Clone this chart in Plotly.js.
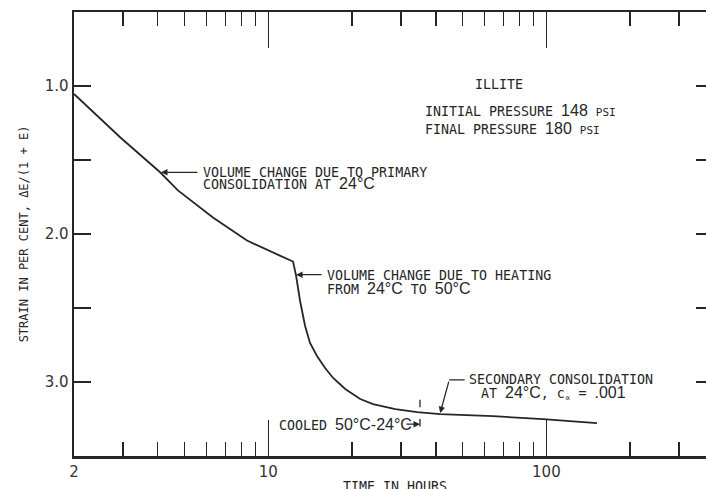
<!DOCTYPE html>
<html>
<head>
<meta charset="utf-8">
<script src="https://cdn.plot.ly/plotly-3.0.1.min.js"></script>
<style>html,body{margin:0;padding:0;background:#fff;overflow:hidden}</style>
</head>
<body>
<div id="chart" style="width:706px;height:489px"></div>
<script>
// Illite consolidation test: strain versus elapsed time (log scale)
const timeHours = [2.0, 2.93, 4.08, 4.73, 6.32, 8.38, 11.0, 12.27, 12.58, 13.0, 13.55, 14.12, 14.96, 16.0, 17.1, 18.9, 21.4, 23.8, 28.6, 34.3, 41.5, 64.3, 97.3, 152];
const strainPct = [1.054, 1.346, 1.583, 1.705, 1.888, 2.044, 2.146, 2.186, 2.281, 2.451, 2.620, 2.736, 2.824, 2.905, 2.973, 3.047, 3.115, 3.149, 3.183, 3.203, 3.217, 3.231, 3.251, 3.278];

const xMajorTicks = [2, 10, 100];
const xMajorLabels = ['2', '10', '100'];
const xMinorTicks = [3, 4, 5, 6, 7, 8, 9, 20, 30, 40, 50, 60, 70, 80, 90, 200, 300];
const yTicks = [1.0, 1.5, 2.0, 2.5, 3.0];
const yTickLabels = ['1.0', '', '2.0', '', '3.0'];

const coolTime = 35.1;          // hours, sample cooled 50°C -> 24°C
const xRange = [Math.log10(2), Math.log10(375)];
const yRange = [3.5, 0.5];

const INK = '#262626';
const MONO = 'DejaVu Sans Mono';
const num = s => `<span style="font-family:Liberation Sans;font-size:16px">${s}</span>`;
const sc = s => `<span style="font-size:11px">${s}</span>`;

function label(hours, strain, text) {
  return {x: Math.log10(hours), y: strain, xref: 'x', yref: 'y', text: text,
    showarrow: false, xanchor: 'left', yanchor: 'middle',
    font: {family: MONO, size: 13.3, color: INK}};
}
function pointer(hours, strain, ax, ay, head) {
  return {x: Math.log10(hours), y: strain, xref: 'x', yref: 'y', text: '',
    showarrow: true, ax: ax, ay: ay, arrowhead: head, arrowsize: 1,
    arrowwidth: 1.3, arrowcolor: INK, standoff: 0, startstandoff: 0};
}

const annotations = [
  label(54.5, 0.993, 'ILLITE'),
  label(36.0, 1.163, 'INITIAL PRESSURE ' + num('148') + ' ' + sc('PSI')),
  label(36.0, 1.285, 'FINAL PRESSURE ' + num('180') + ' ' + sc('PSI')),

  label(5.73, 1.583, 'VOLUME CHANGE DUE TO PRIMARY'),
  label(5.73, 1.661, 'CONSOLIDATION AT ' + num('24°C')),
  pointer(4.11, 1.583, 38, 0, 2),

  label(16.0, 2.281, 'VOLUME CHANGE DUE TO HEATING'),
  label(16.0, 2.369, 'FROM ' + num('24°C') + ' TO ' + num('50°C')),
  pointer(12.58, 2.275, 27, 0, 2),

  label(51.8, 2.986, 'SECONDARY CONSOLIDATION'),
  label(57.3, 3.075, 'AT ' + num('24°C') + ', c<sub>∝</sub> = ' + num('.001')),
  pointer(41.5, 3.21, 9, -33, 2),
  pointer(44.7, 2.986, 17, 0, 0),

  label(10.75, 3.285, 'COOLED ' + num('50°C-24°C')),
  pointer(coolTime, 3.285, -15, 0, 2),
  pointer(coolTime, 3.25, 0, 9, 0),
  pointer(coolTime, 3.12, 0, 9, 0),

  // x-axis title, sitting low in the bottom margin
  {text: 'TIME IN HOURS', xref: 'paper', yref: 'paper', x: 0.508, y: -0.0698,
   xanchor: 'center', yanchor: 'middle', showarrow: false,
   font: {family: MONO, size: 13.3, color: INK}}
];

const traces = [
  {x: timeHours, y: strainPct, type: 'scatter', mode: 'lines',
   line: {color: INK, width: 1.8}, hoverinfo: 'skip', showlegend: false},
  {x: [], y: [], type: 'scatter', mode: 'lines', xaxis: 'x2', yaxis: 'y2',
   hoverinfo: 'skip', showlegend: false}
];

const tickFont = {family: 'DejaVu Sans', size: 15, color: '#333'};

const layout = {
  width: 706, height: 489,
  margin: {l: 74, r: 0, t: 12, b: 33, pad: 0},
  paper_bgcolor: '#fff', plot_bgcolor: '#fff',
  showlegend: false,
  xaxis: {
    type: 'log', range: xRange, autorange: false,
    tickvals: xMajorTicks, ticktext: xMajorLabels,
    ticks: 'inside', ticklen: 36, tickwidth: 1.5, tickcolor: INK,
    showline: true, linewidth: 2.5, linecolor: INK, mirror: 'allticks',
    showgrid: false, zeroline: false, tickfont: tickFont, automargin: false
  },
  xaxis2: {
    type: 'log', range: xRange, autorange: false, overlaying: 'x', anchor: 'y', side: 'bottom',
    tickvals: xMinorTicks, ticks: 'inside', ticklen: 14, tickwidth: 1.5, tickcolor: INK,
    showline: false, mirror: 'allticks', showticklabels: false,
    showgrid: false, zeroline: false
  },
  yaxis: {
    range: yRange, autorange: false,
    tickvals: yTicks, ticktext: yTickLabels,
    ticks: 'inside', ticklen: 17, tickwidth: 1.5, tickcolor: INK,
    showline: true, linewidth: 2.5, linecolor: INK,
    showgrid: false, zeroline: false, tickfont: tickFont, automargin: false,
    title: {text: 'STRAIN IN PER CENT, ΔE/(1 + E)', standoff: 14, font: {family: MONO, size: 12, color: INK}}
  },
  yaxis2: {
    range: yRange, autorange: false, overlaying: 'y', anchor: 'x', side: 'right',
    tickvals: yTicks, ticks: 'inside', ticklen: 10, tickwidth: 1.5, tickcolor: INK,
    showline: false, showticklabels: false, showgrid: false, zeroline: false
  },
  annotations: annotations
};

Plotly.newPlot('chart', traces, layout, {staticPlot: true, displayModeBar: false});
</script>
</body>
</html>
